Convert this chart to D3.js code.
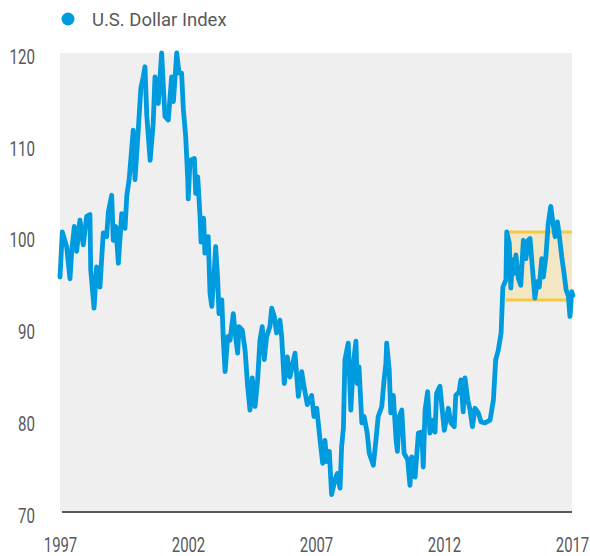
<!DOCTYPE html>
<html>
<head>
<meta charset="utf-8">
<script src="https://cdn.jsdelivr.net/npm/d3@7"></script>
<style>
  body { margin: 0; background: #fff; }
  svg { display: block; font-family: Roboto, "Liberation Sans", sans-serif; }
</style>
</head>
<body>
<div id="chart"></div>
<script>
// U.S. Dollar Index (decimal years)
var years = [1997.00,1997.09,1997.26,1997.39,1997.46,1997.56,1997.65,1997.78,1997.91,1998.04,
  1998.17,1998.20,1998.33,1998.43,1998.56,1998.69,1998.82,1998.89,1999.02,1999.08,
  1999.18,1999.28,1999.41,1999.54,1999.61,1999.70,1999.86,1999.93,2000.04,2000.16,
  2000.25,2000.32,2000.39,2000.52,2000.64,2000.71,2000.84,2000.97,2001.10,2001.23,
  2001.36,2001.43,2001.56,2001.65,2001.75,2001.82,2001.91,2001.99,2002.01,2002.08,
  2002.25,2002.30,2002.38,2002.47,2002.51,2002.61,2002.66,2002.79,2002.86,2002.93,
  2003.03,2003.08,2003.16,2003.21,2003.32,2003.38,2003.45,2003.55,2003.64,2003.77,
  2003.84,2003.94,2003.99,2004.12,2004.23,2004.33,2004.42,2004.51,2004.62,2004.72,
  2004.81,2004.90,2004.98,2005.07,2005.20,2005.27,2005.37,2005.46,2005.59,2005.66,
  2005.76,2005.88,2005.98,2006.18,2006.31,2006.44,2006.53,2006.66,2006.83,2006.92,
  2007.03,2007.16,2007.26,2007.35,2007.42,2007.52,2007.61,2007.74,2007.83,2007.94,
  2008.00,2008.07,2008.13,2008.26,2008.36,2008.46,2008.56,2008.61,2008.68,2008.79,
  2008.88,2009.00,2009.08,2009.24,2009.34,2009.43,2009.57,2009.66,2009.73,2009.76,
  2009.86,2009.92,2010.02,2010.13,2010.18,2010.25,2010.35,2010.44,2010.58,2010.67,
  2010.74,2010.87,2011.00,2011.13,2011.19,2011.26,2011.36,2011.45,2011.58,2011.65,
  2011.71,2011.84,2012.01,2012.17,2012.27,2012.40,2012.46,2012.59,2012.66,2012.75,
  2012.82,2012.93,2013.02,2013.11,2013.21,2013.34,2013.45,2013.60,2013.80,2013.93,
  2014.02,2014.12,2014.23,2014.30,2014.42,2014.45,2014.55,2014.61,2014.68,2014.73,
  2014.81,2014.90,2015.00,2015.10,2015.20,2015.29,2015.36,2015.46,2015.55,2015.64,
  2015.72,2015.82,2015.88,2015.98,2016.07,2016.17,2016.25,2016.34,2016.43,2016.50,
  2016.60,2016.69,2016.77,2016.86,2016.92,2016.99,2017.03];

var values = [95.6,100.5,98.9,95.4,98.5,101.1,98.4,101.8,99.1,102.2,
  102.4,96.4,92.2,96.7,94.5,100.4,100.0,102.7,104.5,99.6,
  101.1,97.1,102.5,100.9,104.5,106.2,111.6,106.2,110.9,116.2,
  117.4,118.5,113.2,108.3,112.3,117.4,114.5,120.0,113.1,112.7,
  117.4,114.7,120.0,117.8,117.8,113.8,110.9,106.2,104.1,108.3,
  108.5,104.7,106.5,102.2,99.4,102.0,98.2,100.0,93.8,92.4,
  96.4,98.9,95.3,91.6,93.1,88.7,85.3,89.1,88.7,91.6,
  89.5,87.3,90.2,89.8,87.6,83.7,81.1,84.6,81.5,84.4,
  88.7,90.2,86.6,89.1,90.2,92.2,91.3,89.5,90.9,89.1,
  84.0,86.9,84.7,87.3,82.6,85.3,83.7,81.7,82.7,80.4,
  81.3,77.8,75.3,77.8,75.5,76.6,71.9,73.5,74.2,72.6,
  77.1,79.1,86.6,88.4,81.1,86.2,88.6,84.0,85.8,79.7,
  80.4,78.6,76.4,75.1,77.8,80.4,81.5,84.4,86.2,88.4,
  85.5,80.8,82.7,77.8,76.6,80.4,81.1,76.4,75.7,72.9,
  76.0,73.8,78.6,78.7,74.9,81.1,83.1,78.6,80.0,78.7,
  82.9,83.7,78.9,81.3,79.7,79.3,82.7,83.1,84.4,80.9,
  84.6,82.2,81.1,79.3,81.3,80.8,79.8,79.7,80.0,82.2,
  86.6,87.6,89.5,94.5,95.3,100.5,99.3,94.4,97.5,96.0,
  98.0,95.5,94.7,99.6,97.6,99.6,99.8,96.4,93.3,95.1,
  94.5,97.6,95.6,97.8,101.4,103.3,101.6,100.0,101.6,100.2,
  97.8,96.0,94.2,93.5,91.3,94.0,93.6];

var yTicks = [70, 80, 90, 100, 110, 120];
var xTicks = [1997, 2002, 2007, 2012, 2017];
var seriesName = "U.S. Dollar Index";

// highlighted range
var boxYears = [2014.41, 2016.99];
var boxValues = [93.1, 100.5];

function init(){
    var w = 590, h = 556;
    var left = 60, right = 572, top = 53, bottom = 512;

    var svg = d3.select("#chart")
                .append("svg")
                .attr("width", w)
                .attr("height", h);

    var xScale = d3.scaleLinear()
                .domain([1997, 2017])
                .range([left, right]);

    var yScale = d3.scaleLinear()
                .domain([70, 120])
                .range([bottom, top]);

    // background
    svg.append("rect")
        .attr("x", left)
        .attr("y", top)
        .attr("width", right - left)
        .attr("height", bottom - top)
        .attr("fill", "#efefef");

    // highlight box
    svg.append("rect")
        .attr("x", xScale(boxYears[0]))
        .attr("y", yScale(boxValues[1]))
        .attr("width", xScale(boxYears[1]) - xScale(boxYears[0]))
        .attr("height", yScale(boxValues[0]) - yScale(boxValues[1]))
        .attr("fill", "#f2e6c4");

    svg.selectAll("line.band")
        .data(boxValues)
        .enter()
        .append("line")
        .attr("class", "band")
        .attr("x1", xScale(boxYears[0]))
        .attr("x2", xScale(boxYears[1]))
        .attr("y1", function(d){ return yScale(d); })
        .attr("y2", function(d){ return yScale(d); })
        .attr("stroke", "#f6c945")
        .attr("stroke-width", 3);

    // the line
    var line = d3.line()
                .x(function(d, i){ return xScale(years[i]); })
                .y(function(d){ return yScale(d); });

    svg.append("path")
        .datum(values)
        .attr("d", line)
        .attr("fill", "none")
        .attr("stroke", "#009bde")
        .attr("stroke-width", 4.8)
        .attr("stroke-linejoin", "round")
        .attr("stroke-linecap", "round");

    // y axis
    var yAxis = d3.axisLeft(yScale)
                .tickValues(yTicks)
                .tickSize(0)
                .tickFormat(d3.format("d"));

    var gy = svg.append("g")
        .attr("transform", "translate(" + left + ",0)")
        .call(yAxis);
    gy.select(".domain").remove();
    gy.selectAll("text")
        .attr("font-family", "Roboto")
        .attr("font-size", "21px")
        .attr("fill", "#58595b")
        .attr("x", -25 / 0.72)
        .attr("y", 3)
        .attr("dy", "0.35em")
        .attr("transform", "scale(0.72,1)");

    // x axis
    var xAxis = d3.axisBottom(xScale)
                .tickValues(xTicks)
                .tickSize(0)
                .tickFormat(d3.format("d"));

    var gx = svg.append("g")
        .attr("transform", "translate(0," + bottom + ")")
        .call(xAxis);
    gx.select(".domain").remove();
    gx.selectAll("text")
        .attr("font-family", "Roboto")
        .attr("font-size", "20px")
        .attr("fill", "#58595b")
        .attr("y", 33)
        .attr("dy", "0.35em")
        .attr("transform", "scale(0.745,1)")
        .attr("x", 0);

    svg.append("line")
        .attr("x1", left + 2)
        .attr("x2", right)
        .attr("y1", bottom)
        .attr("y2", bottom)
        .attr("stroke", "#58595b")
        .attr("stroke-width", 2);

    // legend
    svg.append("circle")
        .attr("cx", 68)
        .attr("cy", 19)
        .attr("r", 6.5)
        .attr("fill", "#009bde");

    svg.append("text")
        .attr("transform", "translate(92,19)")
        .attr("dy", "0.36em")
        .attr("font-family", "Roboto")
        .attr("font-size", "18.5px")
        .attr("fill", "#58595b")
        .text(seriesName);
}

window.onload = init;
</script>
</body>
</html>
